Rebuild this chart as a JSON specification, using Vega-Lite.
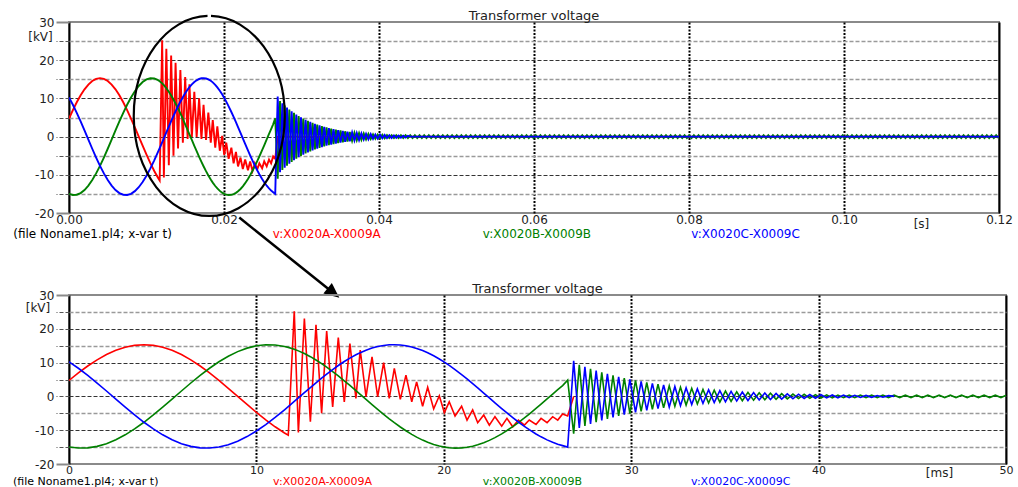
{
"$schema": "https://vega.github.io/schema/vega-lite/v6.json",
"padding": {"left": 11, "top": 9, "right": 0, "bottom": 0},
"autosize": {"type": "pad"},
"bounds": "flush",
"spacing": 82,
"background": "white",
"config": {
  "font": "DejaVu Sans",
  "view": {"stroke": "#8a8a8a", "strokeWidth": 2},
  "axis": {"labelFont": "DejaVu Sans", "labelFontSize": 12, "labelColor": "#222", "titleFont": "DejaVu Sans", "titleFontSize": 12, "titleFontWeight": "normal", "titleColor": "#222", "labelOverlap": false, "labelFlush": false, "labelBound": false}
},
"datasets": {
"labels": [
 {"phase":"file","label":"(file Noname1.pl4; x-var t)","tTop":-7.2,"tBottom":-2.99},
 {"phase":"A","label":"v:X0020A-X0009A","tTop":26.3,"tBottom":10.89},
 {"phase":"B","label":"v:X0020B-X0009B","tTop":53.4,"tBottom":22.08},
 {"phase":"C","label":"v:X0020C-X0009C","tTop":80.3,"tBottom":33.19}
],
"titles": [{"title": "Transformer voltage"}],
"wave": [
{"t":0,"A":4.73,"B":-14.97,"C":10.24},
{"t":0.5,"A":6.95,"B":-15.28,"C":8.33},
{"t":1,"A":8.99,"B":-15.22,"C":6.22},
{"t":1.5,"A":10.82,"B":-14.78,"C":3.96},
{"t":2,"A":12.38,"B":-13.98,"C":1.6},
{"t":2.5,"A":13.63,"B":-12.83,"C":-0.8},
{"t":3,"A":14.55,"B":-11.37,"C":-3.18},
{"t":3.5,"A":15.11,"B":-9.63,"C":-5.48},
{"t":4,"A":15.3,"B":-7.65,"C":-7.65},
{"t":4.5,"A":15.11,"B":-5.48,"C":-9.63},
{"t":5,"A":14.55,"B":-3.18,"C":-11.37},
{"t":5.5,"A":13.63,"B":-0.8,"C":-12.83},
{"t":6,"A":12.38,"B":1.6,"C":-13.98},
{"t":6.5,"A":10.82,"B":3.96,"C":-14.78},
{"t":7,"A":8.99,"B":6.22,"C":-15.22},
{"t":7.5,"A":6.95,"B":8.33,"C":-15.28},
{"t":8,"A":4.73,"B":10.24,"C":-14.97},
{"t":8.5,"A":2.39,"B":11.89,"C":-14.28},
{"t":9,"A":0,"B":13.25,"C":-13.25},
{"t":9.5,"A":-2.39,"B":14.28,"C":-11.89},
{"t":10,"A":-4.73,"B":14.97,"C":-10.24},
{"t":10.5,"A":-6.95,"B":15.28,"C":-8.33},
{"t":11,"A":-8.99,"B":15.22,"C":-6.22},
{"t":11.5,"A":-10.82,"B":14.78,"C":-3.96},
{"t":11.7,"A":-11.48,"B":14.5,"C":-3.02},
{"t":12.02,"A":25.2,"B":13.94,"C":-1.5},
{"t":12.24,"A":-10.7,"B":13.47,"C":-0.45},
{"t":12.56,"A":23.0,"B":12.67,"C":1.09},
{"t":12.88,"A":-7.5,"B":11.75,"C":2.61},
{"t":13.18,"A":21.2,"B":10.77,"C":4.02},
{"t":13.48,"A":-5.0,"B":9.7,"C":5.39},
{"t":13.75,"A":19.3,"B":8.67,"C":6.59},
{"t":14.07,"A":-3.1,"B":7.36,"C":7.94},
{"t":14.37,"A":17.4,"B":6.06,"C":9.14},
{"t":14.69,"A":-1.6,"B":4.62,"C":10.32},
{"t":14.99,"A":15.6,"B":3.23,"C":11.34},
{"t":15.31,"A":-0.6,"B":1.71,"C":12.31},
{"t":15.54,"A":13.7,"B":0.61,"C":12.94},
{"t":15.85,"A":-0.1,"B":-0.88,"C":13.67},
{"t":16.17,"A":11.7,"B":-2.41,"C":14.29},
{"t":16.47,"A":-0.1,"B":-3.82,"C":14.74},
{"t":16.79,"A":10.0,"B":-5.29,"C":15.08},
{"t":17.09,"A":-0.6,"B":-6.62,"C":15.26},
{"t":17.36,"A":8.3,"B":-7.76,"C":15.3},
{"t":17.68,"A":-0.9,"B":-9.05,"C":15.21},
{"t":17.98,"A":6.3,"B":-10.17,"C":14.98},
{"t":18.29,"A":-1.6,"B":-11.23,"C":14.61},
{"t":18.55,"A":4.3,"B":-12.04,"C":14.2},
{"t":18.87,"A":-2.9,"B":-12.93,"C":13.55},
{"t":19.14,"A":2.7,"B":-13.57,"C":12.9},
{"t":19.46,"A":-3.7,"B":-14.21,"C":12.01},
{"t":19.76,"A":0.2,"B":-14.68,"C":11.07},
{"t":20.03,"A":-4.8,"B":-15.0,"C":10.13},
{"t":20.29,"A":-1.6,"B":-15.19,"C":9.16},
{"t":20.6,"A":-5.8,"B":-15.3,"C":7.93},
{"t":20.95,"A":-2.9,"B":-15.24,"C":6.44},
{"t":21.24,"A":-7.0,"B":-15.05,"C":5.15},
{"t":21.54,"A":-4.0,"B":-14.73,"C":3.77},
{"t":21.81,"A":-7.8,"B":-14.32,"C":2.5},
{"t":22.13,"A":-5.5,"B":-13.71,"C":0.98},
{"t":22.43,"A":-8.5,"B":-13.01,"C":-0.46},
{"t":22.73,"A":-6.0,"B":-12.19,"C":-1.9},
{"t":23.09,"A":-8.8,"B":-11.08,"C":-3.6},
{"t":23.37,"A":-6.5,"B":-10.1,"C":-4.89},
{"t":23.68,"A":-9.0,"B":-8.94,"C":-6.28},
{"t":23.98,"A":-7.0,"B":-7.73,"C":-7.57},
{"t":24.3,"A":-8.5,"B":-6.37,"C":-8.86},
{"t":24.56,"A":-7.0,"B":-5.21,"C":-9.85},
{"t":24.92,"A":-8.3,"B":-3.56,"C":-11.11},
{"t":25.19,"A":-6.5,"B":-2.28,"C":-11.96},
{"t":25.51,"A":-7.8,"B":-0.75,"C":-12.86},
{"t":25.81,"A":-6.0,"B":0.69,"C":-13.58},
{"t":26.08,"A":-7.0,"B":1.98,"C":-14.13},
{"t":26.34,"A":-5.2,"B":3.21,"C":-14.56},
{"t":26.61,"A":-5.8,"B":4.8,"C":-15.0},
{"t":26.93,"A":0,"B":-11,"C":10.5},
{"t":27.23,"B":9.34,"C":-9.34},
{"t":27.53,"B":-8.72,"C":8.72},
{"t":27.83,"B":8.15,"C":-8.15},
{"t":28.13,"B":-7.61,"C":7.61},
{"t":28.43,"B":7.11,"C":-7.11},
{"t":28.73,"B":-6.64,"C":6.64},
{"t":29.03,"B":6.2,"C":-6.2},
{"t":29.33,"B":-5.79,"C":5.79},
{"t":29.63,"B":5.41,"C":-5.41},
{"t":29.93,"B":-5.06,"C":5.06},
{"t":30.23,"B":4.72,"C":-4.72},
{"t":30.53,"B":-4.41,"C":4.41},
{"t":30.83,"B":4.12,"C":-4.12},
{"t":31.13,"B":-3.85,"C":3.85},
{"t":31.43,"B":3.6,"C":-3.6},
{"t":31.73,"B":-3.36,"C":3.36},
{"t":32.03,"B":3.14,"C":-3.14},
{"t":32.33,"B":-2.93,"C":2.93},
{"t":32.63,"B":2.74,"C":-2.74},
{"t":32.93,"B":-2.56,"C":2.56},
{"t":33.23,"B":2.39,"C":-2.39},
{"t":33.53,"B":-2.23,"C":2.23},
{"t":33.83,"B":2.08,"C":-2.08},
{"t":34.13,"B":-1.95,"C":1.95},
{"t":34.43,"B":1.82,"C":-1.82},
{"t":34.73,"B":-1.7,"C":1.7},
{"t":35.03,"B":1.59,"C":-1.59},
{"t":35.33,"B":-1.48,"C":1.48},
{"t":35.63,"B":1.38,"C":-1.38},
{"t":35.93,"B":-1.29,"C":1.29},
{"t":36.23,"B":1.21,"C":-1.21},
{"t":36.53,"B":-1.13,"C":1.13},
{"t":36.83,"B":1.05,"C":-1.05},
{"t":37.13,"B":-0.98,"C":0.98},
{"t":37.43,"B":0.92,"C":-0.92},
{"t":37.73,"B":-0.86,"C":0.86},
{"t":38.03,"B":0.8,"C":-0.8},
{"t":38.33,"B":-0.75,"C":0.75},
{"t":38.63,"B":0.7,"C":-0.7},
{"t":38.93,"B":-0.65,"C":0.65},
{"t":39.23,"B":0.61,"C":-0.61},
{"t":39.53,"B":-0.57,"C":0.57},
{"t":39.83,"B":0.53,"C":-0.53},
{"t":40.13,"B":-0.5,"C":0.5},
{"t":40.43,"B":0.46,"C":-0.46},
{"t":40.73,"B":-0.43,"C":0.43},
{"t":41.03,"B":0.4,"C":-0.4},
{"t":41.33,"B":-0.38,"C":0.38},
{"t":41.63,"B":0.35,"C":-0.35},
{"t":41.93,"B":-0.35,"C":0.33},
{"t":42.23,"B":0.35,"C":-0.31},
{"t":42.53,"B":-0.35,"C":0.29},
{"t":42.83,"B":0.35,"C":-0.27},
{"t":43.13,"B":-0.35,"C":0.25},
{"t":43.43,"B":0.35,"C":-0.23},
{"t":43.73,"B":-0.35,"C":0.22},
{"t":44.03,"B":0.35,"C":0},
{"t":44.33,"B":-0.35},{"t":44.63,"B":0.35},{"t":44.93,"B":-0.35},{"t":45.23,"B":0.35},{"t":45.53,"B":-0.35},{"t":45.83,"B":0.35},{"t":46.13,"B":-0.35},{"t":46.43,"B":0.35},{"t":46.73,"B":-0.35},{"t":47.03,"B":0.35},
{"t":47.33,"B":-0.35},{"t":47.63,"B":0.35},{"t":47.93,"B":-0.35},{"t":48.23,"B":0.35},{"t":48.53,"B":-0.35},{"t":48.83,"B":0.35},{"t":49.13,"B":-0.35},{"t":49.43,"B":0.35},{"t":49.73,"B":-0.35},{"t":50.03,"B":0.35},
{"t":50.33,"B":-0.35},{"t":50.63,"B":0.35},{"t":50.93,"B":-0.35},{"t":51.23,"B":0.35},{"t":51.53,"B":-0.35},{"t":51.83,"B":0.35},{"t":52.13,"B":-0.35},{"t":52.43,"B":0.35},{"t":52.73,"B":-0.35},{"t":53.03,"B":0.35},
{"t":53.33,"B":-0.35},{"t":53.63,"B":0.35},{"t":53.93,"B":-0.35},{"t":54.23,"B":0.35},{"t":54.53,"B":-0.35},{"t":54.83,"B":0.35},{"t":55.13,"B":-0.35},{"t":55.43,"B":0.35},{"t":55.73,"B":-0.35},{"t":56.03,"B":0.35},
{"t":56.33,"B":-0.35},{"t":56.63,"B":0.35},{"t":56.93,"B":-0.35},{"t":57.23,"B":0.35},{"t":57.53,"B":-0.35},{"t":57.83,"B":0.35},{"t":58.13,"B":-0.35},{"t":58.43,"B":0.35},{"t":58.73,"B":-0.35},{"t":59.03,"B":0.35},
{"t":59.33,"B":-0.35},{"t":59.63,"B":0.35},{"t":59.93,"B":-0.35},{"t":60.23,"B":0.35},{"t":60.53,"B":-0.35},{"t":60.83,"B":0.35},{"t":61.13,"B":-0.35},{"t":61.43,"B":0.35},{"t":61.73,"B":-0.35},{"t":62.03,"B":0.35},
{"t":62.33,"B":-0.35},{"t":62.63,"B":0.35},{"t":62.93,"B":-0.35},{"t":63.23,"B":0.35},{"t":63.53,"B":-0.35},{"t":63.83,"B":0.35},{"t":64.13,"B":-0.35},{"t":64.43,"B":0.35},{"t":64.73,"B":-0.35},{"t":65.03,"B":0.35},
{"t":65.33,"B":-0.35},{"t":65.63,"B":0.35},{"t":65.93,"B":-0.35},{"t":66.23,"B":0.35},{"t":66.53,"B":-0.35},{"t":66.83,"B":0.35},{"t":67.13,"B":-0.35},{"t":67.43,"B":0.35},{"t":67.73,"B":-0.35},{"t":68.03,"B":0.35},
{"t":68.33,"B":-0.35},{"t":68.63,"B":0.35},{"t":68.93,"B":-0.35},{"t":69.23,"B":0.35},{"t":69.53,"B":-0.35},{"t":69.83,"B":0.35},{"t":70.13,"B":-0.35},{"t":70.43,"B":0.35},{"t":70.73,"B":-0.35},{"t":71.03,"B":0.35},
{"t":71.33,"B":-0.35},{"t":71.63,"B":0.35},{"t":71.93,"B":-0.35},{"t":72.23,"B":0.35},{"t":72.53,"B":-0.35},{"t":72.83,"B":0.35},{"t":73.13,"B":-0.35},{"t":73.43,"B":0.35},{"t":73.73,"B":-0.35},{"t":74.03,"B":0.35},
{"t":74.33,"B":-0.35},{"t":74.63,"B":0.35},{"t":74.93,"B":-0.35},{"t":75.23,"B":0.35},{"t":75.53,"B":-0.35},{"t":75.83,"B":0.35},{"t":76.13,"B":-0.35},{"t":76.43,"B":0.35},{"t":76.73,"B":-0.35},{"t":77.03,"B":0.35},
{"t":77.33,"B":-0.35},{"t":77.63,"B":0.35},{"t":77.93,"B":-0.35},{"t":78.23,"B":0.35},{"t":78.53,"B":-0.35},{"t":78.83,"B":0.35},{"t":79.13,"B":-0.35},{"t":79.43,"B":0.35},{"t":79.73,"B":-0.35},{"t":80.03,"B":0.35},
{"t":80.33,"B":-0.35},{"t":80.63,"B":0.35},{"t":80.93,"B":-0.35},{"t":81.23,"B":0.35},{"t":81.53,"B":-0.35},{"t":81.83,"B":0.35},{"t":82.13,"B":-0.35},{"t":82.43,"B":0.35},{"t":82.73,"B":-0.35},{"t":83.03,"B":0.35},
{"t":83.33,"B":-0.35},{"t":83.63,"B":0.35},{"t":83.93,"B":-0.35},{"t":84.23,"B":0.35},{"t":84.53,"B":-0.35},{"t":84.83,"B":0.35},{"t":85.13,"B":-0.35},{"t":85.43,"B":0.35},{"t":85.73,"B":-0.35},{"t":86.03,"B":0.35},
{"t":86.33,"B":-0.35},{"t":86.63,"B":0.35},{"t":86.93,"B":-0.35},{"t":87.23,"B":0.35},{"t":87.53,"B":-0.35},{"t":87.83,"B":0.35},{"t":88.13,"B":-0.35},{"t":88.43,"B":0.35},{"t":88.73,"B":-0.35},{"t":89.03,"B":0.35},
{"t":89.33,"B":-0.35},{"t":89.63,"B":0.35},{"t":89.93,"B":-0.35},{"t":90.23,"B":0.35},{"t":90.53,"B":-0.35},{"t":90.83,"B":0.35},{"t":91.13,"B":-0.35},{"t":91.43,"B":0.35},{"t":91.73,"B":-0.35},{"t":92.03,"B":0.35},
{"t":92.33,"B":-0.35},{"t":92.63,"B":0.35},{"t":92.93,"B":-0.35},{"t":93.23,"B":0.35},{"t":93.53,"B":-0.35},{"t":93.83,"B":0.35},{"t":94.13,"B":-0.35},{"t":94.43,"B":0.35},{"t":94.73,"B":-0.35},{"t":95.03,"B":0.35},
{"t":95.33,"B":-0.35},{"t":95.63,"B":0.35},{"t":95.93,"B":-0.35},{"t":96.23,"B":0.35},{"t":96.53,"B":-0.35},{"t":96.83,"B":0.35},{"t":97.13,"B":-0.35},{"t":97.43,"B":0.35},{"t":97.73,"B":-0.35},{"t":98.03,"B":0.35},
{"t":98.33,"B":-0.35},{"t":98.63,"B":0.35},{"t":98.93,"B":-0.35},{"t":99.23,"B":0.35},{"t":99.53,"B":-0.35},{"t":99.83,"B":0.35},{"t":100.13,"B":-0.35},{"t":100.43,"B":0.35},{"t":100.73,"B":-0.35},{"t":101.03,"B":0.35},
{"t":101.33,"B":-0.35},{"t":101.63,"B":0.35},{"t":101.93,"B":-0.35},{"t":102.23,"B":0.35},{"t":102.53,"B":-0.35},{"t":102.83,"B":0.35},{"t":103.13,"B":-0.35},{"t":103.43,"B":0.35},{"t":103.73,"B":-0.35},{"t":104.03,"B":0.35},
{"t":104.33,"B":-0.35},{"t":104.63,"B":0.35},{"t":104.93,"B":-0.35},{"t":105.23,"B":0.35},{"t":105.53,"B":-0.35},{"t":105.83,"B":0.35},{"t":106.13,"B":-0.35},{"t":106.43,"B":0.35},{"t":106.73,"B":-0.35},{"t":107.03,"B":0.35},
{"t":107.33,"B":-0.35},{"t":107.63,"B":0.35},{"t":107.93,"B":-0.35},{"t":108.23,"B":0.35},{"t":108.53,"B":-0.35},{"t":108.83,"B":0.35},{"t":109.13,"B":-0.35},{"t":109.43,"B":0.35},{"t":109.73,"B":-0.35},{"t":110.03,"B":0.35},
{"t":110.33,"B":-0.35},{"t":110.63,"B":0.35},{"t":110.93,"B":-0.35},{"t":111.23,"B":0.35},{"t":111.53,"B":-0.35},{"t":111.83,"B":0.35},{"t":112.13,"B":-0.35},{"t":112.43,"B":0.35},{"t":112.73,"B":-0.35},{"t":113.03,"B":0.35},
{"t":113.33,"B":-0.35},{"t":113.63,"B":0.35},{"t":113.93,"B":-0.35},{"t":114.23,"B":0.35},{"t":114.53,"B":-0.35},{"t":114.83,"B":0.35},{"t":115.13,"B":-0.35},{"t":115.43,"B":0.35},{"t":115.73,"B":-0.35},{"t":116.03,"B":0.35},
{"t":116.33,"B":-0.35},{"t":116.63,"B":0.35},{"t":116.93,"B":-0.35},{"t":117.23,"B":0.35},{"t":117.53,"B":-0.35},{"t":117.83,"B":0.35},{"t":118.13,"B":-0.35},{"t":118.43,"B":0.35},{"t":118.73,"B":-0.35},{"t":119.03,"B":0.35},
{"t":119.33,"B":-0.35},{"t":119.63,"B":0.35},{"t":119.93,"B":-0.35},
{"t":120,"A":0,"C":0}
]
},
"vconcat": [
{
  "width": 930, "height": 191,
  "layer": [
    {
      "data": {"name": "wave"},
      "transform": [{"fold": ["A","B","C"], "as": ["phase","kv"]}, {"filter": "isValid(datum.kv)"}],
      "mark": {"type": "line", "strokeWidth": 1.9, "clip": true},
      "encoding": {
        "x": {"field": "t", "type": "quantitative", "scale": {"domain": [0,120], "nice": false, "zero": false},
          "axis": {"values": [0,20,40,60,80,100,120], "tickCount": 20, "labelExpr": "format(datum.value / 1000, '.2f')", "domain": false, "ticks": false, "tickSize": 0, "labelPadding": 1,
            "grid": true, "gridColor": "#000", "gridWidth": 2,
            "gridDash": {"condition": {"test": "datum.value === 0 || datum.value === 120", "value": []}, "value": [2,1.5]},
            "title": "[s]", "titleX": 852, "titleY": 10, "titleAlign": "center", "titleBaseline": "middle"}},
        "y": {"field": "kv", "type": "quantitative", "scale": {"domain": [-20,30], "nice": false, "zero": false},
          "axis": {"values": [-20,-15,-10,-5,0,5,10,15,20,25,30], "tickCount": 20, "labelOverlap": false, "labelExpr": "datum.value % 10 === 0 ? '' + datum.value : ''", "domain": false, "labelPadding": 2, "tickSize": 13,
            "tickColor": {"condition": {"test": "datum.value === 30 || datum.value === -20", "value": "#8a8a8a"}, "value": "#555"},
            "tickDash": {"condition": {"test": "datum.value === 30 || datum.value === -20", "value": []}, "value": [4,2]},
            "tickWidth": {"condition": {"test": "datum.value === 30 || datum.value === -20", "value": 2}, "value": 1},
            "grid": true,
            "gridColor": {"condition": {"test": "datum.value % 10 === 0", "value": "#333"}, "value": "#9a9a9a"},
            "gridDash": [4,2],
            "gridWidth": {"condition": {"test": "datum.value % 10 === 0", "value": 1}, "value": 1.5},
            "gridOpacity": {"condition": {"test": "datum.value === 30 || datum.value === -20", "value": 0}, "value": 1},
            "title": "[kV]", "titleAngle": 0, "titleX": -29, "titleY": 14, "titleAlign": "center", "titleBaseline": "middle"}},
        "color": {"field": "phase", "type": "nominal", "scale": {"domain": ["A","B","C","file"], "range": ["#ff0000","#008000","#0000ff","#000000"]}, "legend": null}
      }
    },
    {
      "data": {"name": "titles"},
      "mark": {"type": "text", "align": "center", "baseline": "middle", "fontSize": 13, "font": "DejaVu Sans", "color": "#222"},
      "encoding": {
        "x": {"datum": 60, "type": "quantitative", "scale": {"domain": [0,120], "nice": false, "zero": false}},
        "y": {"datum": 31.44, "type": "quantitative", "scale": {"domain": [-20,30], "nice": false, "zero": false}},
        "text": {"field": "title"}
      }
    },
    {
      "data": {"name": "labels"},
      "mark": {"type": "text", "align": "left", "baseline": "middle", "fontSize": 12, "font": "DejaVu Sans"},
      "encoding": {
        "x": {"field": "tTop", "type": "quantitative", "scale": {"domain": [0,120], "nice": false, "zero": false}},
        "y": {"datum": -25.6, "type": "quantitative", "scale": {"domain": [-20,30], "nice": false, "zero": false}},
        "text": {"field": "label"},
        "color": {"field": "phase", "type": "nominal", "scale": {"domain": ["A","B","C","file"], "range": ["#ff0000","#008000","#0000ff","#000000"]}, "legend": null}
      }
    },
    {
      "data": {"values": [{"note": "zoom window"}]},
      "mark": {"type": "point", "shape": "M0.005,-1A0.755,1,0,1,1,-0.03,-1", "size": 40000, "filled": false, "color": "#000", "strokeWidth": 2.2, "opacity": 1},
      "encoding": {
        "x": {"datum": 18.26, "type": "quantitative", "scale": {"domain": [0,120], "nice": false, "zero": false}},
        "y": {"datum": 5.4, "type": "quantitative", "scale": {"domain": [-20,30], "nice": false, "zero": false}}
      }
    },
    {
      "data": {"values": [{"note": "zoom arrow"}]},
      "mark": {"type": "rule", "color": "#000", "strokeWidth": 2.5},
      "encoding": {
        "x": {"datum": 21.97, "type": "quantitative", "scale": {"domain": [0,120], "nice": false, "zero": false}},
        "y": {"datum": -21.2, "type": "quantitative", "scale": {"domain": [-20,30], "nice": false, "zero": false}},
        "x2": {"datum": 33.6},
        "y2": {"datum": -40.1}
      }
    },
    {
      "data": {"values": [{"note": "zoom arrow head"}]},
      "mark": {"type": "point", "shape": "M0,0L-1,-0.45L-1,0.45Z", "size": 900, "filled": true, "color": "#000", "opacity": 1, "angle": 38.7},
      "encoding": {
        "x": {"datum": 34.88, "type": "quantitative", "scale": {"domain": [0,120], "nice": false, "zero": false}},
        "y": {"datum": -42.17, "type": "quantitative", "scale": {"domain": [-20,30], "nice": false, "zero": false}}
      }
    }
  ]
},
{
  "width": 937, "height": 169,
  "layer": [
    {
      "data": {"name": "wave"},
      "transform": [{"filter": "datum.t <= 52"}, {"fold": ["A","B","C"], "as": ["phase","kv"]}, {"filter": "isValid(datum.kv)"}],
      "mark": {"type": "line", "strokeWidth": 1.6, "clip": true},
      "encoding": {
        "x": {"field": "t", "type": "quantitative", "scale": {"domain": [0,50], "nice": false, "zero": false},
          "axis": {"values": [0,10,20,30,40,50], "tickCount": 20, "labelExpr": "'' + datum.value", "labelFontSize": 11, "domain": false, "ticks": false, "tickSize": 0, "labelPadding": 0,
            "grid": true, "gridColor": "#000", "gridWidth": 2,
            "gridDash": {"condition": {"test": "datum.value === 0 || datum.value === 50", "value": []}, "value": [2,1.5]},
            "title": "[ms]", "titleX": 870, "titleY": 8, "titleAlign": "center", "titleBaseline": "middle"}},
        "y": {"field": "kv", "type": "quantitative", "scale": {"domain": [-20,30], "nice": false, "zero": false},
          "axis": {"values": [-20,-15,-10,-5,0,5,10,15,20,25,30], "tickCount": 20, "labelOverlap": false, "labelExpr": "datum.value % 10 === 0 ? '' + datum.value : ''", "domain": false, "labelPadding": 2, "tickSize": 13,
            "tickColor": {"condition": {"test": "datum.value === 30 || datum.value === -20", "value": "#8a8a8a"}, "value": "#555"},
            "tickDash": {"condition": {"test": "datum.value === 30 || datum.value === -20", "value": []}, "value": [4,2]},
            "tickWidth": {"condition": {"test": "datum.value === 30 || datum.value === -20", "value": 2}, "value": 1},
            "grid": true,
            "gridColor": {"condition": {"test": "datum.value % 10 === 0", "value": "#333"}, "value": "#9a9a9a"},
            "gridDash": [4,2],
            "gridWidth": {"condition": {"test": "datum.value % 10 === 0", "value": 1}, "value": 1.5},
            "gridOpacity": {"condition": {"test": "datum.value === 30 || datum.value === -20", "value": 0}, "value": 1},
            "title": "[kV]", "titleAngle": 0, "titleX": -31.5, "titleY": 12.3, "titleAlign": "center", "titleBaseline": "middle"}},
        "color": {"field": "phase", "type": "nominal", "scale": {"domain": ["A","B","C","file"], "range": ["#ff0000","#008000","#0000ff","#000000"]}, "legend": null}
      }
    },
    {
      "data": {"name": "titles"},
      "mark": {"type": "text", "align": "center", "baseline": "middle", "fontSize": 13, "font": "DejaVu Sans", "color": "#222"},
      "encoding": {
        "x": {"datum": 25, "type": "quantitative", "scale": {"domain": [0,50], "nice": false, "zero": false}},
        "y": {"datum": 31.83, "type": "quantitative", "scale": {"domain": [-20,30], "nice": false, "zero": false}},
        "text": {"field": "title"}
      }
    },
    {
      "data": {"name": "labels"},
      "mark": {"type": "text", "align": "left", "baseline": "middle", "fontSize": 11, "font": "DejaVu Sans"},
      "encoding": {
        "x": {"field": "tBottom", "type": "quantitative", "scale": {"domain": [0,50], "nice": false, "zero": false}},
        "y": {"datum": -25.2, "type": "quantitative", "scale": {"domain": [-20,30], "nice": false, "zero": false}},
        "text": {"field": "label"},
        "color": {"field": "phase", "type": "nominal", "scale": {"domain": ["A","B","C","file"], "range": ["#ff0000","#008000","#0000ff","#000000"]}, "legend": null}
      }
    }
  ]
}
]
}
